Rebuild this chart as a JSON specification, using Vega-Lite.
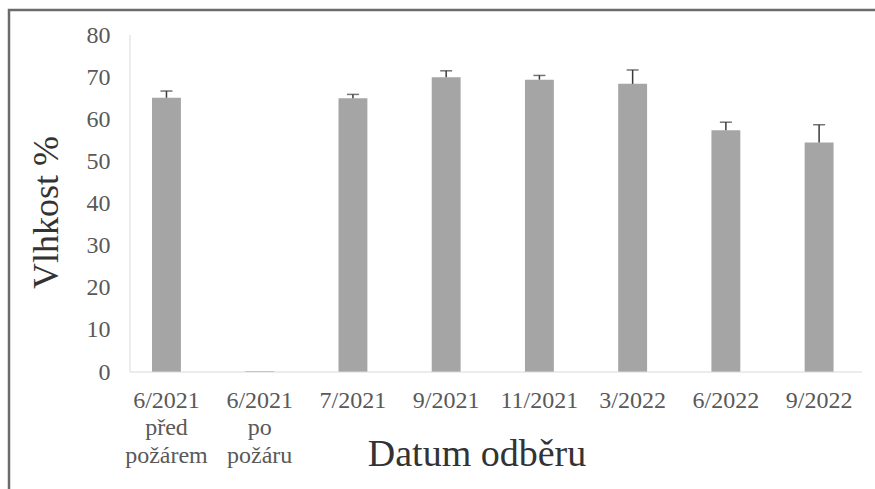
{
  "$schema": "https://vega.github.io/schema/vega-lite/v6.json",
  "width": 868,
  "height": 492,
  "autosize": {"type": "none"},
  "padding": {"left": 9, "top": 10, "right": 0, "bottom": 0},
  "background": "white",
  "config": {
    "view": {"stroke": "#6b6b6b", "strokeWidth": 2.5},
    "font": "Liberation Serif",
    "axis": {
      "labelFont": "Liberation Serif",
      "titleFont": "Liberation Serif",
      "labelColor": "#595959",
      "titleColor": "#333333",
      "titleFontWeight": "normal",
      "grid": false,
      "ticks": false,
      "tickSize": 0,
      "domain": false,
      "labelFontSize": 24
    }
  },
  "datasets": {
    "moisture": [
      {"label": "6/2021|před|požárem", "value": 65.1, "upper": 66.7},
      {"label": "6/2021|po|požáru", "value": 0.2, "upper": null},
      {"label": "7/2021", "value": 65.0, "upper": 65.9},
      {"label": "9/2021", "value": 70.0, "upper": 71.5},
      {"label": "11/2021", "value": 69.4, "upper": 70.4},
      {"label": "3/2022", "value": 68.4, "upper": 71.7},
      {"label": "6/2022", "value": 57.4, "upper": 59.3},
      {"label": "9/2022", "value": 54.5, "upper": 58.7}
    ],
    "axislines": [
      {"x": 0, "x2": 8, "y": 0, "y2": 0},
      {"x": 0, "x2": 0, "y": 0, "y2": 80}
    ]
  },
  "resolve": {"scale": {"x": "independent"}, "axis": {"x": "independent"}},
  "layer": [
    {
      "data": {"name": "moisture"},
      "encoding": {
        "x": {
          "field": "label",
          "type": "nominal",
          "sort": null,
          "scale": {"paddingInner": 0.69, "paddingOuter": 1.088, "align": 0.767},
          "axis": {
            "title": "Datum odběru",
            "labelAngle": 0,
            "labelExpr": "split(datum.label, '|')",
            "labelLineHeight": 27.5,
            "labelPadding": 16,
            "labelBaseline": "top",
            "offset": -130,
            "titleFontSize": 38,
            "titleX": 467.5,
            "titleY": 93,
            "titleAnchor": null,
            "titleAlign": "center",
            "titleBaseline": "alphabetic"
          }
        },
        "y": {
          "type": "quantitative",
          "scale": {"domain": [-30.86, 85.935], "nice": false, "zero": false},
          "axis": {
            "title": "Vlhkost %",
            "values": [0, 10, 20, 30, 40, 50, 60, 70, 80],
            "offset": -121,
            "labelPadding": 20,
            "titleFontSize": 36,
            "titleX": -73,
            "titleY": 202,
            "titleAngle": -90,
            "titleAlign": "center",
            "titleBaseline": "alphabetic"
          }
        }
      },
      "layer": [
        {
          "mark": {"type": "bar", "color": "#A5A5A5"},
          "encoding": {"y": {"field": "value", "type": "quantitative"}}
        },
        {
          "transform": [{"filter": "isValid(datum.upper)"}],
          "mark": {"type": "rule", "color": "#3a3a3a", "strokeWidth": 1.5},
          "encoding": {
            "y": {"field": "value", "type": "quantitative"},
            "y2": {"field": "upper"}
          }
        },
        {
          "transform": [{"filter": "isValid(datum.upper)"}],
          "mark": {"type": "tick", "color": "#3a3a3a", "size": 12, "thickness": 1.5, "orient": "horizontal"},
          "encoding": {"y": {"field": "upper", "type": "quantitative"}}
        }
      ]
    },
    {
      "data": {"name": "axislines"},
      "mark": {"type": "rule", "color": "#D9D9D9", "strokeWidth": 1},
      "encoding": {
        "x": {
          "field": "x",
          "type": "quantitative",
          "scale": {"domain": [-1.3224, 8.1639], "nice": false, "zero": false},
          "axis": null
        },
        "x2": {"field": "x2"},
        "y": {
          "field": "y",
          "type": "quantitative",
          "scale": {"domain": [-30.86, 85.935], "nice": false, "zero": false},
          "axis": {
            "title": "Vlhkost %",
            "values": [0, 10, 20, 30, 40, 50, 60, 70, 80],
            "offset": -121,
            "labelPadding": 20,
            "titleFontSize": 36,
            "titleX": -73,
            "titleY": 202,
            "titleAngle": -90,
            "titleAlign": "center",
            "titleBaseline": "alphabetic"
          }
        },
        "y2": {"field": "y2"}
      }
    }
  ]
}
